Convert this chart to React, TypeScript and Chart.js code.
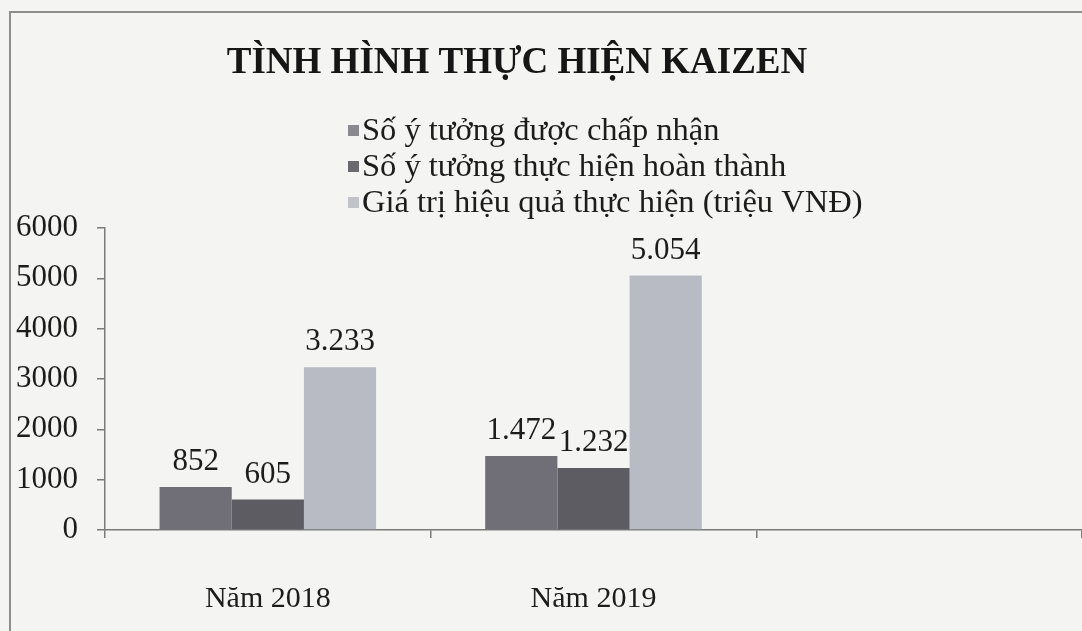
import React, { useEffect, useRef } from "react";
import { Chart, registerables } from "chart.js";

Chart.register(...registerables);

const TITLE = "TÌNH HÌNH THỰC HIỆN KAIZEN";
const categories = ["Năm 2018", "Năm 2019", ""];
const seriesNames = [
  "Số ý tưởng được chấp nhận",
  "Số ý tưởng thực hiện hoàn thành",
  "Giá trị hiệu quả thực hiện (triệu VNĐ)",
];
const accepted = [852, 1472, null];
const completed = [605, 1232, null];
const valueMillion = [3233, 5054, null];
const yTicks = [0, 1000, 2000, 3000, 4000, 5000, 6000];

const barColors = ["#706f77", "#5d5c63", "#b9bbc4"];
const legendColors = ["#8a898f", "#6a696f", "#c2c3c9"];
const FONT = "'Liberation Serif', 'Times New Roman', serif";

function fmt(n: number): string {
  return String(n).replace(/\B(?=(\d{3})+(?!\d))/g, ".");
}

const decorPlugin = {
  id: "decor",
  beforeDraw(chart: any) {
    const ctx = chart.ctx;
    ctx.save();
    ctx.fillStyle = "#f4f4f2";
    ctx.fillRect(0, 0, chart.width, chart.height);
    ctx.strokeStyle = "#8e8e8e";
    ctx.lineWidth = 2;
    ctx.beginPath();
    ctx.moveTo(10, chart.height);
    ctx.lineTo(10, 12);
    ctx.lineTo(chart.width, 12);
    ctx.stroke();
    ctx.restore();
  },
  afterDraw(chart: any) {
    const ctx = chart.ctx;
    ctx.save();
    // title
    ctx.fillStyle = "#161616";
    ctx.font = `bold 37px ${FONT}`;
    ctx.textAlign = "center";
    ctx.textBaseline = "middle";
    ctx.fillText(TITLE, 517, 63);
    // legend
    ctx.font = `32.5px ${FONT}`;
    ctx.textAlign = "left";
    chart.data.datasets.forEach((ds: any, i: number) => {
      const cy = 131 + i * 36;
      ctx.fillStyle = legendColors[i];
      ctx.fillRect(348, cy - 6, 11, 11);
      ctx.fillStyle = "#1c1c1c";
      ctx.fillText(ds.label, 362, cy);
    });
    // data labels
    ctx.font = `31px ${FONT}`;
    ctx.textAlign = "center";
    ctx.textBaseline = "alphabetic";
    ctx.fillStyle = "#1c1c1c";
    chart.data.datasets.forEach((ds: any, i: number) => {
      const meta = chart.getDatasetMeta(i);
      meta.data.forEach((bar: any, j: number) => {
        const v = ds.data[j];
        if (v == null) return;
        ctx.fillText(fmt(v), bar.x, bar.y - 17);
      });
    });
    ctx.restore();
  },
};

export default function App() {
  const ref = useRef<HTMLCanvasElement | null>(null);
  useEffect(() => {
    document.body.style.margin = "0";
    const canvas = ref.current!;
    const axisColor = "#7a7a7a";
    const chart = new Chart(canvas, {
      type: "bar",
      data: {
        labels: categories,
        datasets: [
          { label: seriesNames[0], data: accepted, backgroundColor: barColors[0] },
          { label: seriesNames[1], data: completed, backgroundColor: barColors[1] },
          { label: seriesNames[2], data: valueMillion, backgroundColor: barColors[2] },
        ],
      },
      options: {
        responsive: false,
        animation: false,
        devicePixelRatio: 1,
        layout: { padding: { top: 228, left: 0, right: 0, bottom: 0 } },
        datasets: { bar: { categoryPercentage: 0.665, barPercentage: 1.0 } },
        plugins: { legend: { display: false }, title: { display: false }, tooltip: { enabled: false } },
        scales: {
          x: {
            offset: true,
            grid: { display: true, drawOnChartArea: false, drawTicks: true, tickLength: 8, offset: true, color: axisColor, lineWidth: 1.5 },
            border: { color: axisColor, width: 1.5 },
            ticks: { color: "#1c1c1c", font: { family: FONT, size: 30 }, padding: 43, maxRotation: 0 },
            afterFit: (s: any) => { s.height = 101; },
          },
          y: {
            min: 0,
            max: 6000,
            afterBuildTicks: (s: any) => { s.ticks = yTicks.map((v) => ({ value: v })); },
            grid: { display: true, drawOnChartArea: false, drawTicks: true, tickLength: 8, color: axisColor, lineWidth: 1.5 },
            border: { color: axisColor, width: 1.5 },
            ticks: { color: "#1c1c1c", font: { family: FONT, size: 31 }, padding: 19, callback: (v: any) => String(v) },
            afterFit: (s: any) => { s.width = 105; },
          },
        },
      },
      plugins: [decorPlugin],
    });
    return () => chart.destroy();
  }, []);
  return (
    <div style={{ width: 1082, height: 631, position: "relative", overflow: "hidden", background: "#f4f4f2" }}>
      <canvas ref={ref} width={1082} height={631} style={{ display: "block", width: 1082, height: 631 }} />
    </div>
  );
}
